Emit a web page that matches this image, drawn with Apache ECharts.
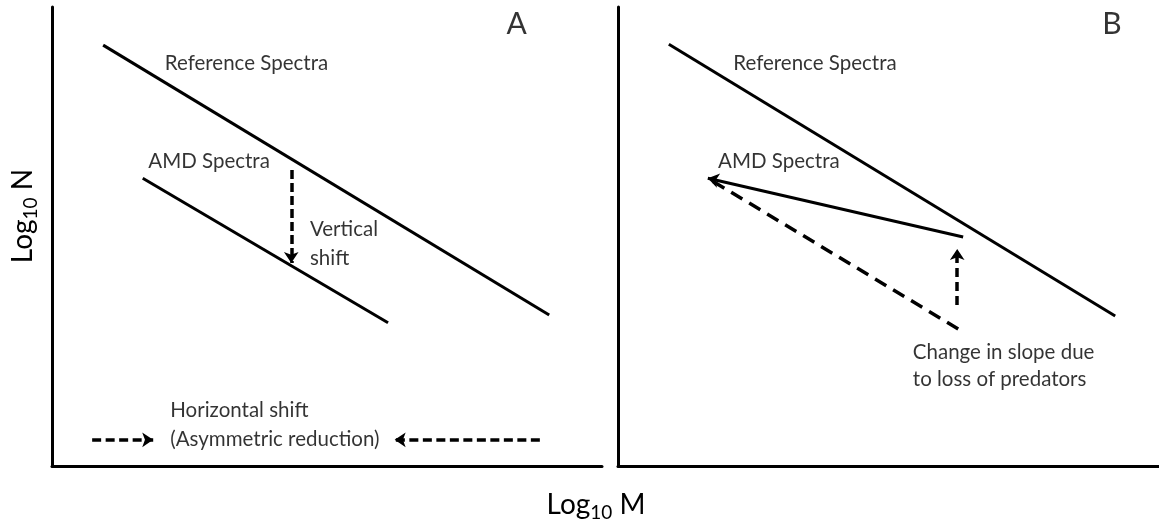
<!DOCTYPE html>
<html>
<head>
<meta charset="utf-8">
<script src="https://cdn.jsdelivr.net/npm/echarts@6/dist/echarts.min.js"></script>
<style>
html,body{margin:0;padding:0;background:#fff;}
#chart{width:1159px;height:529px;}
</style>
</head>
<body>
<div id="chart"></div>
<script>
// ---- Data (abstract units: Log10 M on x, Log10 N on y, both 0..100) ----
// Panel A
const refA = [[9.3, 91.7], [90.4, 32.9]];
const amdA = [[16.5, 62.7], [61.1, 31.2]];
const vShiftA = [[43.5, 64.5], [43.5, 44.2]];
const hShiftLeftA = [[7.3, 5.7], [18.4, 5.7]];
const hShiftRightA = [[88.7, 5.7], [62.3, 5.7]];
// Panel B
const refB = [[9.4, 91.9], [91.9, 32.7]];
const amdB = [[63.8, 49.9], [16.6, 62.7]];
const oldSlopeB = [[17.6, 62.0], [63.8, 29.2]];
const slopeArrowB = [[62.7, 35.1], [62.7, 47.3]];

// Text annotations: [x, y, text]
const labelsA = [
  [20.5, 87.8, 'Reference Spectra'],
  [17.5, 66.4, 'AMD Spectra'],
  [46.9, 48.4, 'Vertical\nshift'],
  [21.5, 9.0, 'Horizontal shift\n(Asymmetric reduction)']
];
const labelsB = [
  [21.3, 87.8, 'Reference Spectra'],
  [18.5, 66.4, 'AMD Spectra'],
  [54.5, 21.8, 'Change in slope due\nto loss of predators']
];
const panelLetters = [[84.5, 96.3, 'A'], [91.3, 96.3, 'B']];
const xTitle = ['Log', '10', ' M'];
const yTitle = ['Log', '10', ' N'];

const FONT = 'Lato, "Open Sans", sans-serif';
const INK = '#000';
const chart = echarts.init(document.getElementById('chart'));

function axisPair(idx) {
  return {
    x: { type: 'value', gridIndex: idx, min: 0, max: 100,
      axisLine: { show: true, onZero: false, lineStyle: { color: INK, width: 3 } },
      axisTick: { show: false }, axisLabel: { show: false }, splitLine: { show: false } },
    y: { type: 'value', gridIndex: idx, min: 0, max: 100,
      axisLine: { show: true, onZero: false, lineStyle: { color: INK, width: 3 } },
      axisTick: { show: false }, axisLabel: { show: false }, splitLine: { show: false } }
  };
}
const a0 = axisPair(0), a1 = axisPair(1);

function seg(coords, idx, opts) {
  return Object.assign({
    type: 'lines', coordinateSystem: 'cartesian2d',
    xAxisIndex: idx, yAxisIndex: idx,
    symbol: ['none', 'none'], symbolSize: 11,
    lineStyle: { color: INK, width: 3, opacity: 1, type: 'solid', curveness: 0 },
    silent: true, z: 5,
    data: [{ coords: coords }]
  }, opts || {});
}
function dashedArrow(coords, idx, dash) {
  return seg(coords, idx, {
    symbol: ['none', 'arrow'], symbolSize: [9, 11],
    lineStyle: { color: INK, width: 3.5, opacity: 1, type: dash, cap: 'butt' }
  });
}
function labelSeries(list, idx, size, lh) {
  return {
    type: 'scatter', xAxisIndex: idx, yAxisIndex: idx, symbolSize: 0, silent: true, z: 10,
    data: list.map(d => ({ value: [d[0], d[1]], name: d[2] })),
    label: { show: true, position: 'right', distance: 0, formatter: p => p.name,
      color: INK, fontFamily: FONT, fontSize: size, lineHeight: lh, align: 'left' }
  };
}

const richTitle = {
  a: { fontSize: 28, fontFamily: FONT, color: INK, lineHeight: 34 },
  s: { fontSize: 19, fontFamily: FONT, color: INK, lineHeight: 16, verticalAlign: 'bottom' }
};
function richText(parts) {
  return '{a|' + parts[0] + '}{s|' + parts[1] + '}{a|' + parts[2] + '}';
}

chart.setOption({
  animation: false,
  backgroundColor: '#fff',
  grid: [
    { left: 52, top: 7, width: 550, height: 459 },
    { left: 618, top: 7, width: 541, height: 459 }
  ],
  xAxis: [a0.x, a1.x],
  yAxis: [a0.y, a1.y],
  graphic: [
    { type: 'text', x: 596, y: 505, silent: true,
      style: { text: richText(xTitle), rich: richTitle, align: 'center', verticalAlign: 'middle' } },
    { type: 'text', x: 23, y: 216, rotation: Math.PI / 2, silent: true,
      style: { text: richText(yTitle), rich: richTitle, align: 'center', verticalAlign: 'middle' } }
  ],
  series: [
    seg(refA, 0),
    seg(amdA, 0),
    dashedArrow(vShiftA, 0, [9, 4]),
    dashedArrow(hShiftLeftA, 0, [9, 4.5]),
    dashedArrow(hShiftRightA, 0, [9, 4.5]),
    seg(refB, 1),
    seg(amdB, 1, { symbol: ['none', 'arrow'], symbolSize: [9, 11] }),
    seg(oldSlopeB, 1, { lineStyle: { color: INK, width: 3.5, opacity: 1, type: [13, 8], cap: 'butt' } }),
    dashedArrow(slopeArrowB, 1, [9, 5]),
    labelSeries(labelsA, 0, 20.5, 29),
    labelSeries(labelsB, 1, 20.5, 27),
    {
      type: 'scatter', symbolSize: 0, silent: true, z: 10, xAxisIndex: 0, yAxisIndex: 0,
      data: [{ value: [panelLetters[0][0], panelLetters[0][1]], name: panelLetters[0][2] }],
      label: { show: true, position: 'inside', formatter: p => p.name, color: INK, fontFamily: FONT, fontSize: 30 }
    },
    {
      type: 'scatter', symbolSize: 0, silent: true, z: 10, xAxisIndex: 1, yAxisIndex: 1,
      data: [{ value: [panelLetters[1][0], panelLetters[1][1]], name: panelLetters[1][2] }],
      label: { show: true, position: 'inside', formatter: p => p.name, color: INK, fontFamily: FONT, fontSize: 30 }
    }
  ]
});
</script>
</body>
</html>
